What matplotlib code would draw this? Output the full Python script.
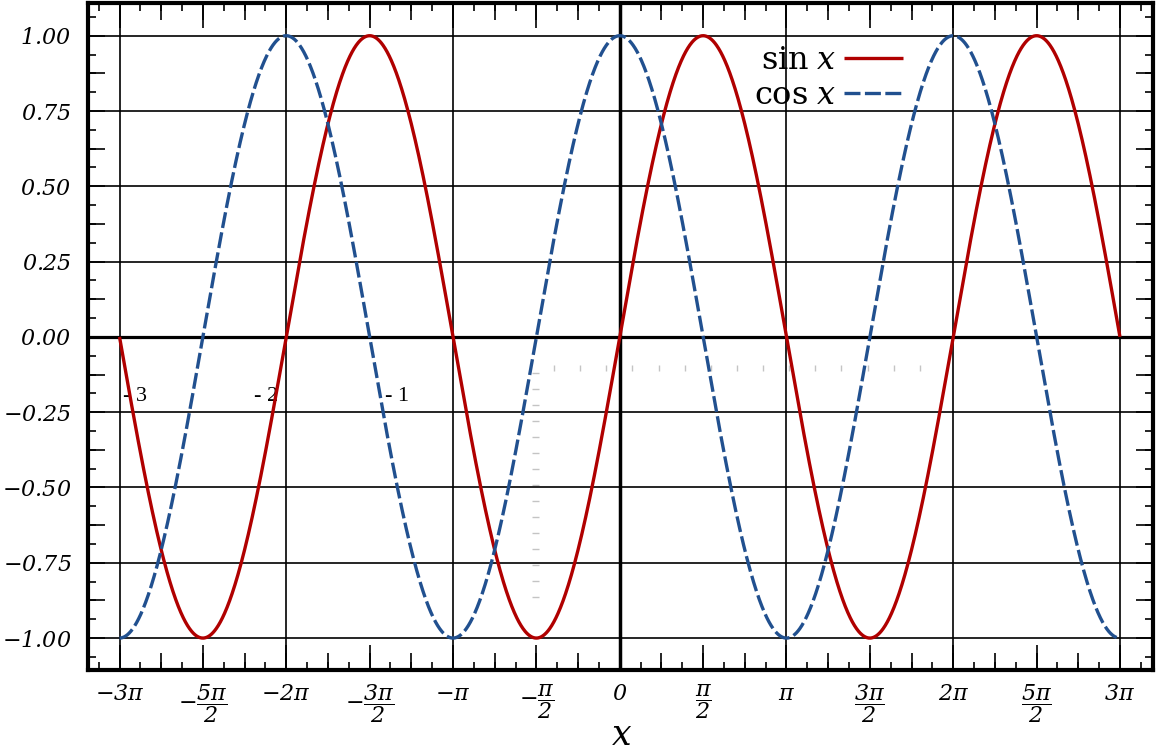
import numpy as np
import matplotlib
matplotlib.use('Agg')
import matplotlib.pyplot as plt
from matplotlib.ticker import FixedLocator, NullFormatter, FixedFormatter

PI = np.pi

# ---------------- data ----------------
# The chart plots the two functions named in its legend over [-3pi, 3pi].
x_values = np.linspace(-3 * PI, 3 * PI, 2401)
sin_values = np.sin(x_values)
cos_values = np.cos(x_values)
series_labels = [r'$\mathsf{sin}\;x$', r'$\mathsf{cos}\;x$']

x_tick_halfpi = np.arange(-6, 7)          # tick positions in units of pi/2
x_tick_labels = [r'$-3\pi$', r'$-\dfrac{5\pi}{2}$', r'$-2\pi$', r'$-\dfrac{3\pi}{2}$',
                 r'$-\pi$', r'$-\dfrac{\pi}{2}$', r'$0$', r'$\dfrac{\pi}{2}$', r'$\pi$',
                 r'$\dfrac{3\pi}{2}$', r'$2\pi$', r'$\dfrac{5\pi}{2}$', r'$3\pi$']
y_tick_values = [-1.00, -0.75, -0.50, -0.25, 0.00, 0.25, 0.50, 0.75, 1.00]
y_tick_labels = [r'$-1.00$', r'$-0.75$', r'$-0.50$', r'$-0.25$', r'$0.00$',
                 r'$0.25$', r'$0.50$', r'$0.75$', r'$1.00$']
x_grid_pi = np.arange(-3, 4)              # vertical grid at multiples of pi
stray_labels = ['- 3', '- 2', '- 1']      # leftover text in the picture
x_label = r'$x$'

# ---------------- style ----------------
SIN_COLOR = '#b00000'
COS_COLOR = '#21508f'
W, H = 1156, 747
plt.rcParams['mathtext.fontset'] = 'custom'
plt.rcParams['mathtext.rm'] = 'DejaVu Serif:italic'
plt.rcParams['mathtext.it'] = 'DejaVu Serif:italic'
plt.rcParams['mathtext.sf'] = 'DejaVu Serif'
plt.rcParams['mathtext.bf'] = 'DejaVu Serif:bold'
plt.rcParams['lines.scale_dashes'] = False
plt.rcParams['font.family'] = ['DejaVu Serif', 'DejaVu Sans']

fig = plt.figure(figsize=(W / 100, H / 100), dpi=100, facecolor='white')
left_px, right_px, top_px, bot_px = 88, 1153.3, 3.3, 670
rect = [left_px / W, (H - bot_px) / H, (right_px - left_px) / W, (bot_px - top_px) / H]

ax = fig.add_axes(rect)
ax.set_zorder(2)
ax.set_facecolor('none')
xlim = (-3.189 * PI, 3.2 * PI)
ylim = (-1.106, 1.1076)

# twin axes for the medium-length ticks
axmx = ax.twiny()
axmy = ax.twinx()
for a in (axmx, axmy):
    a.set_xlim(xlim)
    a.set_ylim(ylim)
    for s in a.spines.values():
        s.set_visible(False)
    a.patch.set_visible(False)

axmx.xaxis.set_major_locator(FixedLocator(np.arange(-12, 13) * PI / 4))
axmx.xaxis.set_major_formatter(NullFormatter())
axmx.tick_params(axis='x', which='major', direction='in', length=12, width=1.2,
                 top=True, bottom=True, labeltop=False, labelbottom=False, color='black')
axmy.yaxis.set_major_locator(FixedLocator(np.arange(-8, 9) * 0.125))
axmy.yaxis.set_major_formatter(NullFormatter())
axmy.tick_params(axis='y', which='major', direction='in', length=12, width=1.2,
                 left=True, right=True, labelleft=False, labelright=False, color='black')

ax.set_xlim(xlim)
ax.set_ylim(ylim)

# grid
for k in x_grid_pi:
    ax.axvline(k * PI, color='black', lw=1.2, zorder=1)
for v in y_tick_values:
    ax.axhline(v, color='black', lw=1.2, zorder=1)
ax.axvline(0, color='black', lw=2.5, zorder=2)
ax.axhline(0, color='black', lw=2.3, zorder=2)

# curves
ax.plot(x_values, sin_values, color=SIN_COLOR, lw=2.4, label=series_labels[0],
        zorder=4, solid_capstyle='butt')
cos_line, = ax.plot(x_values, cos_values, color=COS_COLOR, lw=2.4,
                    label=series_labels[1], zorder=4, dash_capstyle='butt')
cos_line.set_dashes((11.5, 3.2))

# ticks
ax.xaxis.set_major_locator(FixedLocator(x_tick_halfpi * PI / 2))
ax.xaxis.set_major_formatter(FixedFormatter(x_tick_labels))
ax.xaxis.set_minor_locator(FixedLocator(np.arange(-25, 26) * PI / 8))
ax.yaxis.set_major_locator(FixedLocator(y_tick_values))
ax.yaxis.set_major_formatter(FixedFormatter(y_tick_labels))
ax.yaxis.set_minor_locator(FixedLocator(np.arange(-17, 18) / 16))
ax.tick_params(axis='x', which='major', direction='in', length=18, width=1.2,
               top=True, bottom=True, labelsize=16, pad=9)
ax.tick_params(axis='x', which='minor', direction='in', length=5.8, width=1.2,
               top=True, bottom=True)
ax.tick_params(axis='y', which='major', direction='in', length=0, width=1.2,
               left=True, right=True, labelsize=16, pad=12)
ax.tick_params(axis='y', which='minor', direction='in', length=5.8, width=1.2,
               left=True, right=True)

for s in ax.spines.values():
    s.set_linewidth(3.0)
    s.set_color('black')

ax.set_xlabel(x_label, fontsize=25, va='top')
ax.xaxis.set_label_coords((622 - left_px) / (right_px - left_px),
                          (bot_px - 718) / (bot_px - top_px))

# legend
leg = ax.legend(loc='upper right', bbox_to_anchor=(0.765, 0.937), frameon=False,
                markerfirst=False, handlelength=1.85, handletextpad=0.25,
                labelspacing=0.12, borderaxespad=0, borderpad=0, fontsize=23)

# stray leftover labels
stray_x0, stray_step, stray_y = -9.13, 2.463, -0.199
for i, s in enumerate(stray_labels):
    ax.text(stray_x0 + i * stray_step, stray_y, s, ha='center', va='center',
            fontsize=16, family='Liberation Serif', zorder=3)

# faint leftover tick marks (an empty embedded axis)
inset_ticks = np.arange(15)
ins_l, ins_r, ins_t, ins_b = 532, 922, 371, 598
ains = fig.add_axes([ins_l / W, (H - ins_b) / H, (ins_r - ins_l) / W, (ins_b - ins_t) / H])
ains.set_zorder(1)
ains.patch.set_visible(False)
for s in ains.spines.values():
    s.set_visible(False)
ains.set_xlim(-0.84, 14.08)
ains.set_ylim(-0.06, 14.12)
ains.xaxis.set_major_locator(FixedLocator(inset_ticks))
ains.yaxis.set_major_locator(FixedLocator(inset_ticks))
ains.xaxis.set_major_formatter(NullFormatter())
ains.yaxis.set_major_formatter(NullFormatter())
ains.tick_params(axis='x', top=True, bottom=False, direction='out', length=4,
                 width=1, color='#c4c4c4', labeltop=False, labelbottom=False)
ains.tick_params(axis='y', left=True, right=False, direction='in', length=5,
                 width=1, color='#c4c4c4', labelleft=False)

fig.savefig('out.png', dpi=100, facecolor='white')
